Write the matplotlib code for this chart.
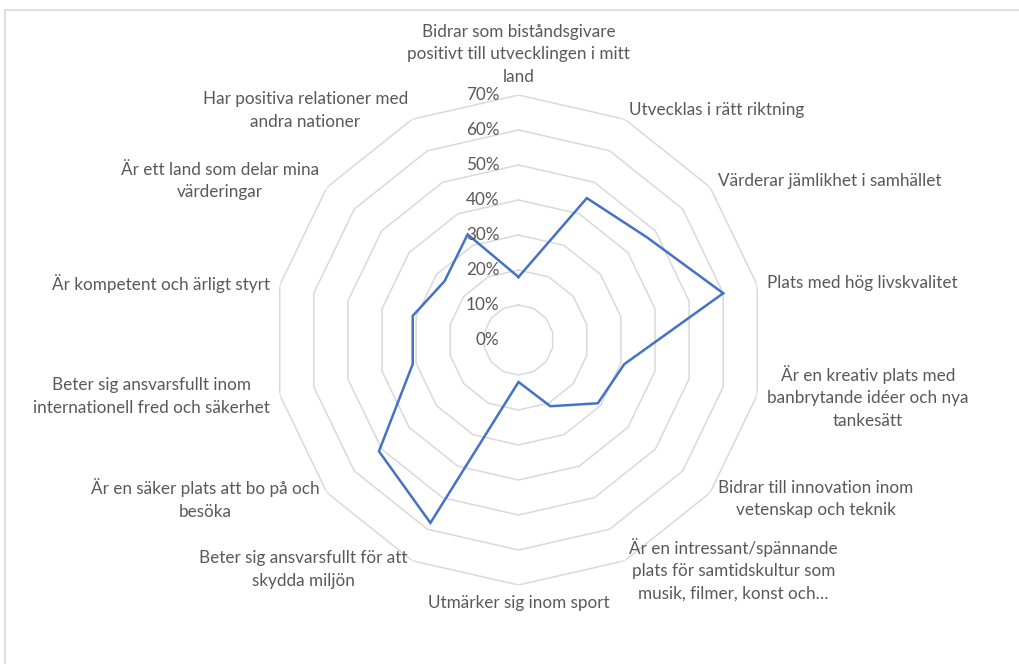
import numpy as np
import matplotlib
matplotlib.use("Agg")
import matplotlib.pyplot as plt
from matplotlib.patches import Rectangle
from matplotlib.transforms import offset_copy

# categories, clockwise from the top
categories = [
    "Bidrar som biståndsgivare\npositivt till utvecklingen i mitt\nland",
    "Utvecklas i rätt riktning",
    "Värderar jämlikhet i samhället",
    "Plats med hög livskvalitet",
    "Är en kreativ plats med\nbanbrytande idéer och nya\ntankesätt",
    "Bidrar till innovation inom\nvetenskap och teknik",
    "Är en intressant/spännande\nplats för samtidskultur som\nmusik, filmer, konst och…",
    "Utmärker sig inom sport",
    "Beter sig ansvarsfullt för att\nskydda miljön",
    "Är en säker plats att bo på och\nbesöka",
    "Beter sig ansvarsfullt inom\ninternationell fred och säkerhet",
    "Är kompetent och ärligt styrt",
    "Är ett land som delar mina\nvärderingar",
    "Har positiva relationer med\nandra nationer",
]

# share of answers, percent
values = [18, 45, 47, 60, 31, 29, 21, 12, 58, 51, 31, 31, 27, 33.5]

ring_ticks = [0, 10, 20, 30, 40, 50, 60, 70]
ring_labels = ["0%", "10%", "20%", "30%", "40%", "50%", "60%", "70%"]

text_col = "#595959"
grid_col = "#d9d9d9"
line_col = "#4472c4"
fsize = 12.3
plt.rcParams["font.family"] = ["Lato", "DejaVu Sans"]

fig = plt.figure(figsize=(10.19, 6.64), dpi=100)

# light chart border, only left and top edge show in the picture
fig.patches.append(Rectangle((5 / 1019, -0.2), 1.2, 1.2 - 10 / 664,
                             transform=fig.transFigure, fill=False,
                             edgecolor=grid_col, lw=1.2))

ax = fig.add_axes([(518.5 - 245) / 1019, (664 - 340 - 245) / 664,
                   490 / 1019, 490 / 664], projection="polar")
ax.set_theta_offset(np.pi / 2)
ax.set_theta_direction(-1)
ax.set_ylim(0, 70)
ax.set_xticks([])
ax.set_yticks([])
ax.grid(False)
ax.spines["polar"].set_visible(False)
ax.patch.set_alpha(0)

n = len(categories)
theta = np.arange(n) * 2 * np.pi / n
theta_closed = np.append(theta, theta[0])

# polygon rings
for v in ring_ticks[1:]:
    ax.plot(theta_closed, [v] * (n + 1), color=grid_col, lw=1.1, zorder=1)

# the data
vals = np.append(values, values[0])
ax.plot(theta_closed, vals, color=line_col, lw=1.8, zorder=3,
        solid_joinstyle="miter")

# ring labels left of the vertical axis
tick_tr = offset_copy(ax.transData, fig=fig, x=-19, y=0, units="dots")
for v, lab in zip(ring_ticks, ring_labels):
    ax.text(0, v, lab, transform=tick_tr, ha="right", va="center",
            fontsize=fsize, color=text_col)

# category labels outside the outer ring
for t, lab in zip(theta, categories):
    s, c = np.sin(t), np.cos(t)
    tr = offset_copy(ax.transData, fig=fig, x=10 * s, y=10 * c, units="dots")
    if s > 0.1:
        ha = "left"
    elif s < -0.1:
        ha = "right"
    else:
        ha = "center"
    if abs(s) < 0.1:
        va = "bottom" if c > 0 else "top"
    else:
        va = "center"
    ax.text(t, 70, lab, transform=tr, ha=ha, va=va, multialignment="center",
            fontsize=fsize, color=text_col, linespacing=1.5)

fig.savefig("out.png", dpi=100)
